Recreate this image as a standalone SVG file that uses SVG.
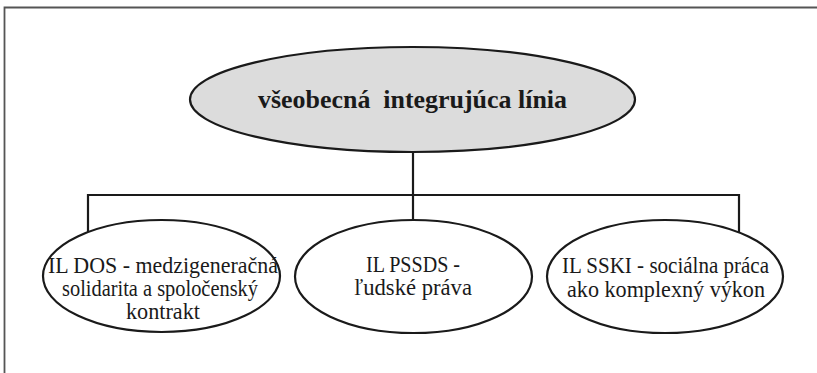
<svg xmlns="http://www.w3.org/2000/svg" width="817" height="373" viewBox="0 0 817 373">
<style>
.frame{fill:none;stroke:#555;stroke-width:1.8}
.node{stroke:#1a1a1a;stroke-width:2.2;fill:#fff}
.root{fill:#dcdcdc}
.conn{fill:none;stroke:#1a1a1a;stroke-width:2.2}
.t{font-family:'Liberation Serif',serif;font-size:23px;fill:#1a1a1a;text-anchor:middle}
.b{font-weight:bold;font-size:25px}
</style>
<rect width="817" height="373" fill="#fff"/>
<path class="frame" d="M4.5,373 V7.5 H817"/>
<g id="connectors">
<path class="conn" d="M413,152 V195"/>
<path class="conn" d="M88,232 V195 H739 V232"/>
<path class="conn" d="M413,195 V220"/>
</g>
<g id="root">
<ellipse class="node root" cx="412.5" cy="99.5" rx="222.5" ry="52.5"/>
<text class="t b" x="412.5" y="108" textLength="309" lengthAdjust="spacingAndGlyphs">všeobecná&#160; integrujúca línia</text>
</g>
<g id="dos">
<ellipse class="node" cx="161.5" cy="276" rx="118.5" ry="56"/>
<text class="t" x="163" y="273" textLength="230" lengthAdjust="spacingAndGlyphs">IL DOS - medzigeneračná</text>
<text class="t" x="160" y="296" textLength="196" lengthAdjust="spacingAndGlyphs">solidarita a spoločenský</text>
<text class="t" x="163" y="319" textLength="74" lengthAdjust="spacingAndGlyphs">kontrakt</text>
</g>
<g id="pssds">
<ellipse class="node" cx="413.5" cy="276.5" rx="118.5" ry="56.5"/>
<text class="t" x="413" y="272" textLength="94" lengthAdjust="spacingAndGlyphs">IL PSSDS -</text>
<text class="t" x="413" y="295" textLength="118" lengthAdjust="spacingAndGlyphs">ľudské práva</text>
</g>
<g id="sski">
<ellipse class="node" cx="665" cy="276.5" rx="118" ry="56.5"/>
<text class="t" x="665.5" y="273" textLength="207" lengthAdjust="spacingAndGlyphs">IL SSKI - sociálna práca</text>
<text class="t" x="666" y="297" textLength="198" lengthAdjust="spacingAndGlyphs">ako komplexný výkon</text>
</g>
</svg>
